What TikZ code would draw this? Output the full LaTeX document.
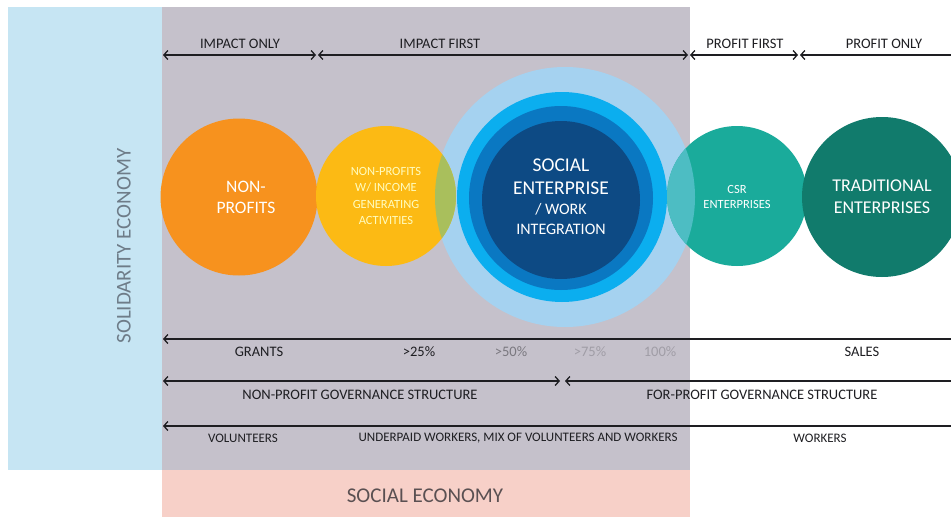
\documentclass[tikz,border=0pt]{standalone}
\usepackage{fontspec}
\setmainfont{Carlito}
\usepackage{xcolor}
\usetikzlibrary{arrows.meta, positioning}

\definecolor{solidblue}{HTML}{C6E5F3}
\definecolor{socgrey}{HTML}{C5C1CB}
\definecolor{socpink}{HTML}{F7D0C8}
\definecolor{nporange}{HTML}{F7921E}
\definecolor{npyellow}{HTML}{FCBA14}
\definecolor{mixgreen}{HTML}{A9BF5C}
\definecolor{halo}{HTML}{A5D2F0}
\definecolor{sebright}{HTML}{0BAEEF}
\definecolor{semid}{HTML}{0A78C2}
\definecolor{senavy}{HTML}{0D4A84}
\definecolor{csrteal}{HTML}{1AAB9B}
\definecolor{mixteal}{HTML}{4DBDC3}
\definecolor{tradteal}{HTML}{117B6C}
\definecolor{ink}{HTML}{1E1E22}
\definecolor{econgrey}{HTML}{6E7C88}
\definecolor{econbrown}{HTML}{5A5052}

\begin{document}
\begin{tikzpicture}[x=1pt, y=-1pt, >={Straight Barb[length=4pt,width=9pt]}]
		\tikzstyle{bar} = [line width=1.3pt, draw=ink]
		\tikzstyle{lbl} = [inner sep=0pt, text=ink, font=\fontsize{14.5}{16}\selectfont]
		\tikzstyle{small} = [inner sep=0pt, text=ink, font=\fontsize{13}{15}\selectfont]
		\tikzstyle{bubble} = [circle, draw=none, inner sep=0pt, align=center, text=white]
		
		\useasboundingbox (0,0) rectangle (951,517);
		\fill[white] (0,0) rectangle (951,517);
		
		% economy bands
		\fill[solidblue] (8,7) rectangle (162,470);
		\fill[socgrey] (162,7) rectangle (690,470);
		\fill[socpink] (162,470) rectangle (690,517);
		\node[inner sep=0pt, text=econgrey, rotate=90, font=\fontsize{21}{24}\selectfont] (solid) at (124,246) {SOLIDARITY ECONOMY};
		\node[inner sep=0pt, text=econbrown, font=\fontsize{21}{24}\selectfont] (social) at (425,496) {SOCIAL ECONOMY};
		
		% top scale
		\coordinate (io-l) at (163,55);
		\coordinate (io-r) at (316,55);
		\coordinate (if-l) at (318,55);
		\coordinate (if-r) at (688,55);
		\coordinate (pf-l) at (690,55);
		\coordinate (pf-r) at (798,55);
		\coordinate (po-l) at (800,55);
		\coordinate (po-r) at (951,55);
		\draw[bar, <->] (io-l) -- (io-r);
		\draw[bar, <->] (if-l) -- (if-r);
		\draw[bar, <->] (pf-l) -- (pf-r);
		\draw[bar, <-] (po-l) -- (po-r);
		\node[lbl] (impactonly) at (240,44) {IMPACT ONLY};
		\node[lbl] (impactfirst) at (440,44) {IMPACT FIRST};
		\node[lbl] (profitfirst) at (745,44) {PROFIT FIRST};
		\node[lbl] (profitonly) at (884,44) {PROFIT ONLY};
		
		% bubbles
		\node[bubble, fill=nporange, minimum size=157pt] (np) at (239,197) {};
		\node[lbl, text=white, align=center, font=\fontsize{17.5}{21}\selectfont] (nptext) at (246,197) {NON-\\PROFITS};
		\node[bubble, fill=halo, minimum size=260pt] (sehalo) at (565,197) {};
		\node[bubble, fill=npyellow, minimum size=140pt] (npinc) at (386,196) {};
		\begin{scope}
			\clip (npinc.center) circle (70);
			\fill[mixgreen] (sehalo.center) circle (130);
		\end{scope}
		\node[lbl, text=yellow!25, font=\fontsize{12.5}{16.5}\selectfont, align=center] (npinctext) at (npinc.center) {NON-PROFITS\\W/ INCOME\\GENERATING\\ACTIVITIES};
		\node[bubble, fill=sebright, minimum size=210pt] (sering) at (562,197) {};
		\node[bubble, fill=semid, minimum size=184pt] (semid) at (561,198) {};
		\node[bubble, fill=senavy, minimum size=158pt] (se) at (561,200) {};
		\node[lbl, text=white, align=center, font=\fontsize{19.5}{23}\selectfont] (setext) at (561,177) {SOCIAL\\ENTERPRISE};
		\node[lbl, text=white, align=center, font=\fontsize{16}{20}\selectfont, below=8pt of setext] (setext2) {/ WORK\\INTEGRATION};
		\node[bubble, fill=csrteal, minimum size=140pt] (csr) at (737,196) {};
		\begin{scope}
			\clip (csr.center) circle (70);
			\fill[mixteal] (sehalo.center) circle (130);
		\end{scope}
		\node[lbl, text=white, align=center, font=\fontsize{12.5}{15.5}\selectfont] (csrtext) at (737,197) {CSR\\ENTERPRISES};
		\node[bubble, fill=tradteal, minimum size=160pt, font=\fontsize{18}{22}\selectfont] (trad) at (882,197) {TRADITIONAL\\ENTERPRISES};
		
		% revenue row
		\coordinate (rev-l) at (163,339);
		\coordinate (rev-r) at (951,339);
		\draw[bar, <-] (rev-l) -- (rev-r);
		\node[lbl] (grants) at (259,352) {GRANTS};
		\node[lbl] (p25) at (419,352) {>25\%};
		\node[lbl, text=ink!45!socgrey] (p50) at (511,352) {>50\%};
		\node[lbl, text=ink!22!socgrey] (p75) at (590,352) {>75\%};
		\node[lbl, text=ink!22!socgrey] (p100) at (660,352) {100\%};
		\node[lbl] (sales) at (862,352) {SALES};
		
		% governance row
		\coordinate (gov-l) at (163,381);
		\coordinate (gov-m) at (560,381);
		\coordinate (gov-n) at (565,381);
		\coordinate (gov-r) at (951,381);
		\draw[bar, <->] (gov-l) -- (gov-m);
		\draw[bar, <-] (gov-n) -- (gov-r);
		\node[lbl] (npgov) at (360,395) {NON-PROFIT GOVERNANCE STRUCTURE};
		\node[lbl] (fpgov) at (762,395) {FOR-PROFIT GOVERNANCE STRUCTURE};
		
		% workforce row
		\coordinate (work-l) at (163,426);
		\coordinate (work-r) at (951,426);
		\draw[bar, <-] (work-l) -- (work-r);
		\node[small] (vol) at (243,438) {VOLUNTEERS};
		\node[small] (mix) at (518,438) {UNDERPAID WORKERS, MIX OF VOLUNTEERS AND WORKERS};
		\node[small] (workers) at (820,438) {WORKERS};
\end{tikzpicture}
\end{document}
